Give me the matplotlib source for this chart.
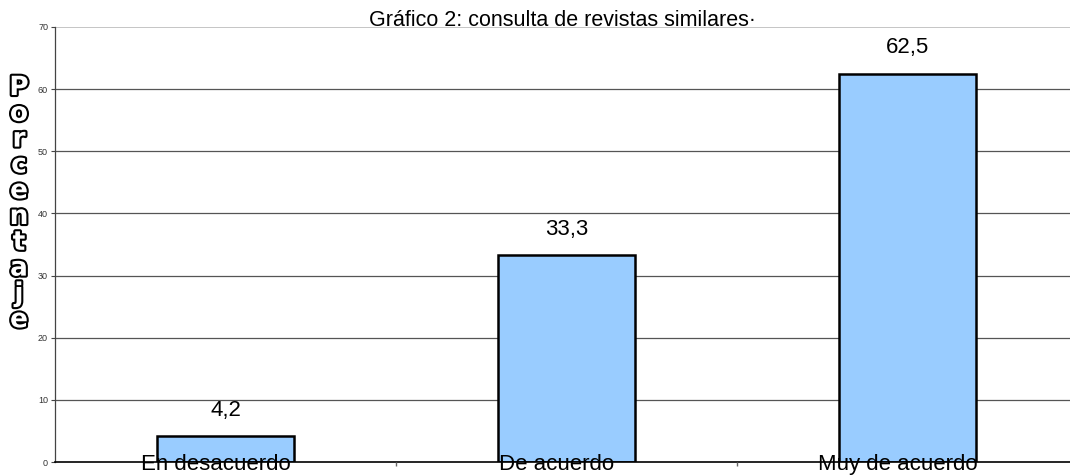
import matplotlib.pyplot as plt
import matplotlib.patheffects as pe
from matplotlib.transforms import ScaledTranslation

categorias = ['En desacuerdo', 'De acuerdo', 'Muy de acuerdo']
porcentajes = [4.2, 33.3, 62.5]
etiquetas = ['4,2', '33,3', '62,5']
titulo = 'Gráfico 2: consulta de revistas similares·'
ylabel = 'Porcentaje'

plt.rcParams['font.family'] = ['Liberation Sans', 'DejaVu Sans']

fig = plt.figure(figsize=(10.70, 4.76), dpi=100)
ax = fig.add_axes([55 / 1070, 14 / 476, 1023 / 1070, 435 / 476])

x = range(len(categorias))
bars = ax.bar(x, porcentajes, width=0.4, color='#99CCFF', edgecolor='black',
              linewidth=1.8, zorder=2)

# etiquetas de valor encima de cada barra
for b, txt in zip(bars, etiquetas):
    ax.annotate(txt, (b.get_x() + b.get_width() / 2, b.get_height()),
                xytext=(0, 11), textcoords='offset points',
                ha='center', va='bottom', fontsize=16)

ax.set_xlim(-0.5, 2.5)
ax.set_ylim(0, 70)
ax.set_yticks(range(0, 71, 10))
ax.tick_params(axis='y', labelsize=6.5, labelcolor='#333333', length=3,
               width=0.8, color='#444444', pad=2)

# cuadrícula horizontal
for v in range(10, 70, 10):
    ax.axhline(v, color='#555555', linewidth=0.9, zorder=1)
ax.axhline(70, color='#bbbbbb', linewidth=1.2, zorder=1)

ax.set_xticks(list(x))
ax.set_xticklabels(categorias, fontsize=16)
ax.set_xticks([0.5, 1.5], minor=True)
ax.tick_params(axis='x', which='major', length=0, pad=0)
ax.tick_params(axis='x', which='minor', length=3, width=1, color='#666666')
off = ScaledTranslation(-10 / 100, -8 / 100, fig.dpi_scale_trans)
for lab in ax.get_xticklabels():
    lab.set_va('baseline')
    lab.set_transform(lab.get_transform() + off)
ax.xaxis.set_zorder(3)

for s in ['top', 'right']:
    ax.spines[s].set_visible(False)
ax.spines['left'].set_color('#444444')
ax.spines['left'].set_linewidth(0.9)
ax.spines['bottom'].set_color('black')
ax.spines['bottom'].set_linewidth(1.2)

fig.text(562 / 1070, 1 - 21 / 476, titulo, ha='center', va='center', fontsize=15.5)

# etiqueta del eje y, letra por letra en vertical
for i, letra in enumerate(ylabel):
    fig.text(19 / 1070, 1 - (95 + i * 25.8) / 476, letra, ha='center',
             va='baseline', fontsize=19, fontweight='bold', color='white',
             family='DejaVu Sans',
             path_effects=[pe.withStroke(linewidth=3, foreground='black')])

fig.savefig('out.png', dpi=100)
